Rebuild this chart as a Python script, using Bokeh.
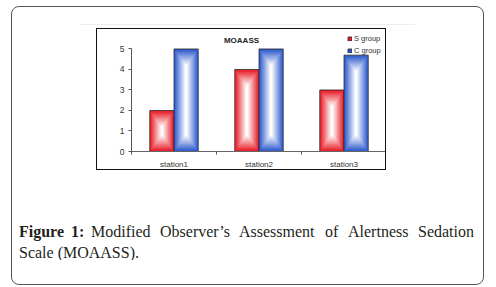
from bokeh.plotting import figure
from bokeh.models import (Range1d, FixedTicker, Label, Legend, LegendItem, Div, Column)
from bokeh.embed import file_html
from bokeh.resources import INLINE

# ---- data ----
categories = ["station1", "station2", "station3"]
s_group = [2, 4, 3]
c_group = [5, 5, 4.7]
y_ticks = [0, 1, 2, 3, 4, 5]
chart_title = "MOAASS"
caption_line1 = ["Figure", "1:", "Modified", "Observer\u2019s", "Assessment", "of", "Alertness", "Sedation"]
caption_line2 = "Scale (MOAASS)."

def no_frame_align(fig):
    try:
        fig.frame_align = False
    except Exception:
        pass

# ---- chart geometry ----
CW, CH = 290, 142          # chart box incl. 1.5px border
MB_L, MB_R, MB_T, MB_B = 34, 1, 0, 20
frame_w = CW - 3 - MB_L - MB_R
frame_h = CH - 3 - MB_T - MB_B
y_max = 5.0 * frame_h / (frame_h - 19)   # room above 5 for title/legend

p = figure(width=CW, height=CH, output_backend="svg", toolbar_location=None,
           x_range=Range1d(0, 3), y_range=Range1d(0, y_max),
           min_border_left=MB_L, min_border_right=MB_R, min_border_top=MB_T, min_border_bottom=MB_B,
           styles={"border": "1.5px solid #111111"}, margin=(3, 0, 0, 84))
no_frame_align(p)
p.outline_line_color = None
p.xgrid.visible = False
p.ygrid.visible = False

def blend(c, t):
    t = max(0.0, min(t, 1.0))
    return "#%02x%02x%02x" % tuple(int(round(ci + (255 - ci) * t)) for ci in c)

red = (232, 26, 36)
blue = (44, 88, 204)
half = 0.285
px_x = frame_w / 3.0          # pixels per x unit
px_y = frame_h / y_max        # pixels per y unit
N = 16
renderers = {}
for vals, col, side, name in [(s_group, red, -1, "S group"), (c_group, blue, 1, "C group")]:
    first = None
    for k in range(N):
        t = k / N
        d = t * (half * px_x) / 2.0       # inset in pixels
        lefts, rights, bots, tops = [], [], [], []
        for i, v in enumerate(vals):
            c = i + 0.5
            l, r = (c - half, c) if side < 0 else (c, c + half)
            dy = min(d * 1.4 / px_y, v / 2.0 * 0.98)
            lefts.append(l + d / px_x)
            rights.append(r - d / px_x)
            bots.append(0 + dy)
            tops.append(v - dy)
        rr = p.quad(left=lefts, right=rights, bottom=bots, top=tops,
                    fill_color=blend(col, t * 1.08),
                    line_color="#2a2a2a" if k == 0 else None, line_width=0.8)
        if first is None:
            first = rr
    renderers[name] = first

p.yaxis.ticker = FixedTicker(ticks=y_ticks)
p.yaxis.bounds = (0, 5)
p.yaxis.major_tick_out = 3
p.yaxis.major_tick_in = 0
p.yaxis.minor_tick_line_color = None
p.yaxis.axis_line_color = "#555555"
p.yaxis.major_tick_line_color = "#555555"
p.yaxis.major_label_text_font = "Liberation Sans"
p.yaxis.major_label_text_font_size = "8.5px"
p.yaxis.major_label_text_color = "#333333"
p.yaxis.major_label_standoff = 4

centers = [i + 0.5 for i in range(len(categories))]
bounds = [i for i in range(len(categories) + 1)]
p.xaxis.ticker = FixedTicker(ticks=centers, minor_ticks=bounds)
p.xaxis.major_label_overrides = {c: n for c, n in zip(centers, categories)}
p.xaxis.major_tick_line_color = None
p.xaxis.minor_tick_out = 3
p.xaxis.minor_tick_in = 0
p.xaxis.minor_tick_line_color = "#555555"
p.xaxis.axis_line_color = "#666666"
p.xaxis.major_label_text_font = "Liberation Sans"
p.xaxis.major_label_text_font_size = "8px"
p.xaxis.major_label_text_color = "#333333"
p.xaxis.major_label_standoff = 2

p.add_layout(Label(x=110, y=frame_h - 8, x_units="screen", y_units="screen", text=chart_title,
                   text_font="Liberation Sans", text_font_style="bold", text_font_size="8px",
                   text_align="center", text_baseline="middle", text_color="#222222"))

legend = Legend(items=[LegendItem(label=k, renderers=[v]) for k, v in renderers.items()],
                location=(216, frame_h - 24), glyph_width=5, glyph_height=5, label_height=11,
                spacing=1, padding=0, margin=0, background_fill_alpha=0, border_line_color=None,
                label_text_font="Liberation Sans", label_text_font_size="7.5px",
                label_text_color="#333333", label_standoff=2)
p.add_layout(legend)

# ---- caption ----
cap_w, cap_h = 470, 60
cap = figure(width=cap_w, height=cap_h, output_backend="svg", toolbar_location=None,
             x_range=Range1d(0, 1), y_range=Range1d(0, 1),
             x_axis_location=None, y_axis_location=None,
             min_border_left=0, min_border_right=0, min_border_top=0, min_border_bottom=0,
             margin=(30, 0, 0, 0))
no_frame_align(cap)
cap.outline_line_color = None
cap.grid.visible = False
cap_left = 12.5
xs1 = [19, 71, 91, 160, 239, 325, 348, 418]
for word, x in zip(caption_line1, xs1):
    bold = word in ("Figure", "1:")
    cap.add_layout(Label(x=x - cap_left, y=29, x_units="screen", y_units="screen", text=word,
                         text_font="Liberation Serif", text_font_size="16px",
                         text_font_style="bold" if bold else "normal",
                         text_baseline="alphabetic", text_color="#231f20"))
cap.add_layout(Label(x=19 - cap_left, y=8, x_units="screen", y_units="screen", text=caption_line2,
                     text_font="Liberation Serif", text_font_size="16px",
                     text_baseline="alphabetic", text_color="#231f20"))

rule = Div(width=335, height=1, styles={"background-color": "#eeeeee"}, margin=(17, 0, 0, 68))

layout = Column(children=[rule, p, cap], width=473, height=279, spacing=0,
                margin=(6, 0, 0, 11),
                styles={"border": "1.5px solid #555555", "border-radius": "8px"})

open("out.html", "w").write(file_html(layout, INLINE))
